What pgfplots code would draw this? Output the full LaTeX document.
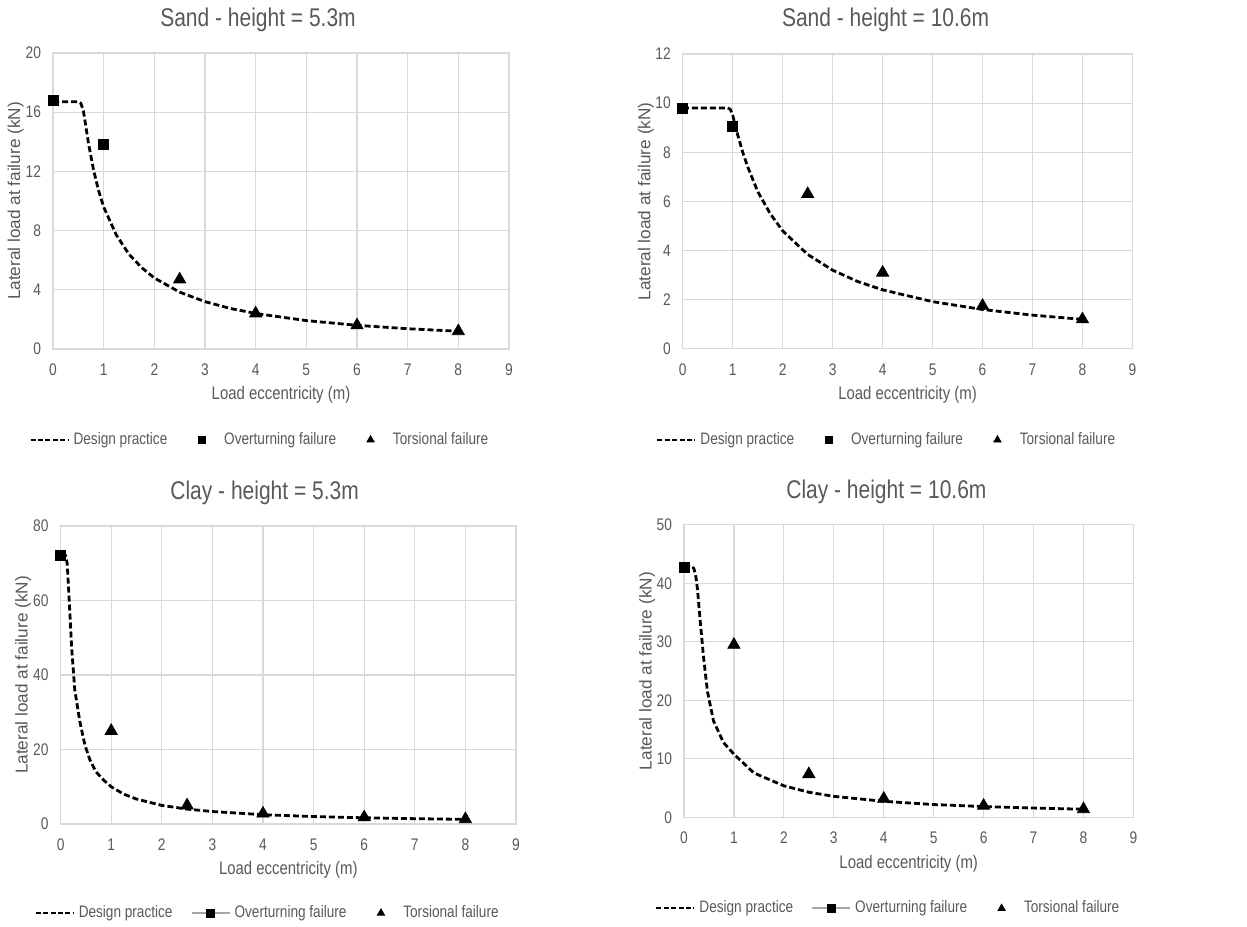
\documentclass[border=0pt]{standalone}
\usepackage{pgfplots}
\pgfplotsset{compat=1.18}
\usepackage{fontspec}
\setmainfont[FakeStretch=0.82]{Liberation Sans}
\newfontfamily\ylfont{Liberation Sans}
\definecolor{txt}{HTML}{595959}
\definecolor{grd}{HTML}{D9D9D9}
\definecolor{lgr}{HTML}{A6A6A6}
\pgfplotsset{
 myaxis/.style={
  scale only axis, xmin=0, xmax=9, ymin=0, xtick={0,...,9},
  axis line style={grd, line width=0.6pt}, major grid style={grd, line width=0.6pt}, grid=major,
  tick style={draw=none},
  ticklabel style={font=\fontsize{8.4}{9}\selectfont, text=txt},
  /pgf/number format/assume math mode=true,
  xticklabel style={yshift=-3.8pt}, yticklabel style={xshift=-2.5pt},
  xlabel={Load eccentricity (m)}, ylabel={Lateral load at failure  (kN)},
  xlabel style={font=\fontsize{9.1}{10}\selectfont, text=txt, at={(axis description cs:0.5,0)}, anchor=base, yshift=-25.3pt},
  ylabel style={font=\ylfont\fontsize{8.6}{10}\selectfont, text=txt, at={(axis description cs:-0.082,0.5)}, anchor=center},
  legend columns=3,
  legend style={draw=none, fill=none, font=\fontsize{8.3}{10}\selectfont, text=txt, anchor=center,
    /tikz/every even column/.append style={column sep=7pt}},
  legend cell align=left,
  clip=false,
 },
 dp/.style={black, line width=1.4pt, dash pattern=on 3pt off 1.5pt, mark=none,
   legend image code/.code={\draw[black, line width=1pt, dash pattern=on 2.5pt off 1.2pt] (0pt,0pt) -- (19pt,0pt);}},
 ov/.style={only marks, mark=square*, mark size=2.5pt, black,
   legend image code/.code={\path (0pt,0pt) (17pt,0pt); \draw[##1, mark size=1.8pt] plot coordinates {(8pt,0pt)};}},
 ov2/.style={mark=square*, mark size=2.5pt, draw=lgr, line width=1pt, mark options={draw=black, fill=black, line width=0.4pt},
   legend image code/.code={\draw[lgr, line width=1pt] (0pt,0pt) -- (19pt,0pt); \draw[##1, mark size=2pt] plot coordinates {(9.5pt,0pt)};}},
 tf/.style={only marks, mark=triangle*, mark size=3.5pt, black,
   legend image code/.code={\path (0pt,0pt) (17pt,0pt); \draw[##1, mark size=2.1pt] plot coordinates {(8pt,0pt)};}},
}
\begin{document}
\begin{tikzpicture}
\useasboundingbox (0,0) rectangle (623.5pt,-463pt);
\tikzset{ttl/.style={anchor=base, font=\fontsize{12.8}{14}\selectfont, text=txt}}
\node[ttl] at (129pt,-13.3pt) {Sand - height = 5.3m};
\node[ttl] at (442.8pt,-13.3pt) {Sand - height = 10.6m};
\node[ttl] at (132.3pt,-249.7pt) {Clay - height = 5.3m};
\node[ttl] at (443.2pt,-249.2pt) {Clay - height = 10.6m};

% Sand 5.3 m
\begin{axis}[myaxis, at={(26.5pt,-174.5pt)}, anchor=south west, width=228pt, height=148pt,
  ymax=20, ytick={0,4,...,20}, legend style={at={(0.456,-0.307)}}]
\addplot[dp] coordinates {(0,16.7)(0.25,16.7)(0.5,16.7)(0.55,16.6)(0.6,16.1)(0.65,15.0)(0.7,13.9)(0.8,12.1)(0.9,10.7)(1,9.6)(1.25,7.7)(1.5,6.4)(1.75,5.5)(2,4.8)(2.5,3.84)(3,3.2)(3.5,2.74)(4,2.4)(5,1.92)(6,1.6)(7,1.37)(8,1.2)};
\addlegendentry{Design practice}
\addplot[ov] coordinates {(0,16.8)(1,13.8)};
\addlegendentry{Overturning failure}
\addplot[tf] coordinates {(2.5,4.7)(4,2.4)(6,1.6)(8,1.2)};
\addlegendentry{Torsional failure}
\end{axis}

% Sand 10.6 m
\begin{axis}[myaxis, at={(341.4pt,-174.4pt)}, anchor=south west, width=224.8pt, height=147.4pt,
  ymax=12, ytick={0,2,...,12}, legend style={at={(0.456,-0.309)}}]
\addplot[dp] coordinates {(0,9.8)(0.5,9.8)(0.9,9.8)(0.95,9.75)(1.0,9.5)(1.05,9.1)(1.1,8.7)(1.2,8.0)(1.3,7.4)(1.5,6.4)(1.75,5.5)(2,4.8)(2.5,3.84)(3,3.2)(3.5,2.74)(4,2.4)(5,1.92)(6,1.6)(7,1.37)(8,1.2)};
\addlegendentry{Design practice}
\addplot[ov] coordinates {(0,9.8)(1,9.05)};
\addlegendentry{Overturning failure}
\addplot[tf] coordinates {(2.5,6.3)(4,3.1)(6,1.75)(8,1.2)};
\addlegendentry{Torsional failure}
\end{axis}

% Clay 5.3 m
\begin{axis}[myaxis, at={(30.3pt,-412pt)}, anchor=south west, width=227.7pt, height=149pt,
  ymax=80, ytick={0,20,...,80}, legend style={at={(0.457,-0.299)}}]
\addplot[dp] coordinates {(0,72)(0.1,72)(0.13,70)(0.17,60)(0.22,47)(0.28,36)(0.38,27.5)(0.48,21.2)(0.58,17.2)(0.7,14)(0.85,11.8)(1,10)(1.25,8)(1.5,6.7)(2,5)(2.5,4)(3,3.35)(4,2.5)(5,2)(6,1.67)(7,1.43)(8,1.25)};
\addlegendentry{Design practice}
\addplot[ov2] coordinates {(0,72)};
\addlegendentry{Overturning failure}
\addplot[tf] coordinates {(1,25)(2.5,5)(4,2.8)(6,1.8)(8,1.3)};
\addlegendentry{Torsional failure}
\end{axis}

% Clay 10.6 m
\begin{axis}[myaxis, at={(342pt,-408.7pt)}, anchor=south west, width=224.7pt, height=146.3pt,
  ymax=50, ytick={0,10,...,50}, legend style={at={(0.457,-0.311)}}]
\addplot[dp] coordinates {(0,43)(0.15,43)(0.2,42.5)(0.24,41)(0.27,39)(0.32,34)(0.39,27.5)(0.47,21.5)(0.59,16.5)(0.79,12.8)(1,10.8)(1.4,7.6)(2,5.4)(2.5,4.3)(3,3.6)(4,2.75)(5,2.2)(6,1.85)(7,1.6)(8,1.4)};
\addlegendentry{Design practice}
\addplot[ov2] coordinates {(0,42.8)};
\addlegendentry{Overturning failure}
\addplot[tf] coordinates {(1,29.5)(2.5,7.4)(4,3.2)(6,2)(8,1.4)};
\addlegendentry{Torsional failure}
\end{axis}
\end{tikzpicture}
\end{document}
